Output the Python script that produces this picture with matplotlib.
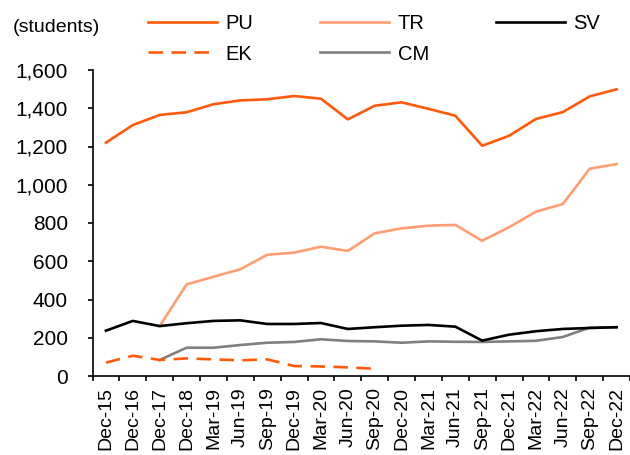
import numpy as np
import matplotlib
matplotlib.use("Agg")
import matplotlib.pyplot as plt
from matplotlib.ticker import FuncFormatter, FixedLocator

plt.rcParams['font.family'] = ['Liberation Sans', 'DejaVu Sans']

periods = ["Dec-15", "Dec-16", "Dec-17", "Dec-18", "Mar-19", "Jun-19", "Sep-19",
           "Dec-19", "Mar-20", "Jun-20", "Sep-20", "Dec-20", "Mar-21", "Jun-21",
           "Sep-21", "Dec-21", "Mar-22", "Jun-22", "Sep-22", "Dec-22"]
nan = np.nan
pu = [1220, 1312, 1365, 1379, 1421, 1441, 1447, 1464, 1450, 1342,
      1413, 1431, 1397, 1361, 1204, 1256, 1344, 1380, 1462, 1499]
tr = [nan, nan, 261, 479, 519, 558, 634, 645, 676, 654,
      746, 772, 786, 790, 707, 778, 859, 899, 1084, 1108]
sv = [237, 288, 261, 276, 288, 291, 272, 272, 277, 246,
      255, 263, 267, 258, 185, 216, 234, 246, 251, 255]
ek = [70, 106, 84, 92, 87, 82, 87, 52, 50, 45,
      38, nan, nan, nan, nan, nan, nan, nan, nan, nan]
cm = [nan, nan, 84, 148, 148, 162, 174, 178, 192, 183,
      181, 174, 181, 179, 178, 181, 184, 204, 253, 255]

c_pu = "#FF5A0A"
c_tr = "#FF9E72"
c_sv = "#000000"
c_cm = "#808080"

fig = plt.figure(figsize=(6.3, 4.55), dpi=100)
ax = fig.add_axes([92.5 / 630, 1 - 376 / 455, (630 - 92.5) / 630, (376 - 70) / 455])

x = np.arange(len(periods))
lw = 1.9
h_pu, = ax.plot(x, pu, color=c_pu, lw=lw, label="PU")
h_tr, = ax.plot(x, tr, color=c_tr, lw=lw, label="TR")
h_sv, = ax.plot(x, sv, color=c_sv, lw=lw, label="SV")
h_cm, = ax.plot(x, cm, color=c_cm, lw=lw, label="CM")
h_ek, = ax.plot(x, ek, color=c_pu, lw=lw, ls=(0, (5.5, 3.2)), label="EK")
h_sv.set_zorder(h_cm.get_zorder() + 0.1)

ax.set_xlim(-0.5, len(periods) - 0.5)
ax.set_ylim(0, 1600)
ax.set_yticks(np.arange(0, 1601, 200))
ax.yaxis.set_major_formatter(FuncFormatter(lambda v, p: f"{int(v):,}"))

ax.set_xticks(x)
ax.set_xticklabels(periods, rotation=90)
ax.xaxis.set_minor_locator(FixedLocator(np.arange(-0.5, len(periods), 1.0)))
ax.tick_params(axis='x', which='major', length=0, pad=8, labelsize=14)
ax.tick_params(axis='x', which='minor', length=3.6, width=1.2, direction='out')
ax.tick_params(axis='y', length=3.6, width=1.2, direction='out', labelsize=15, pad=14)

for s in ("top", "right"):
    ax.spines[s].set_visible(False)
for s in ("left", "bottom"):
    ax.spines[s].set_linewidth(1.2)

fig.text(12.5 / 630, 1 - 28 / 455, "(students)", fontsize=14, va="center", ha="left")

fig.legend(handles=[h_pu, h_ek, h_tr, h_cm, h_sv], labels=["PU", "EK", "TR", "CM", "SV"],
           ncol=3, loc="upper left", bbox_to_anchor=(140 / 630, 1 - 6 / 455),
           frameon=False, fontsize=14.5, handlelength=3.43, handletextpad=0.4,
           columnspacing=3.35, labelspacing=0.57, borderaxespad=0)

fig.savefig("out.png", dpi=100)
